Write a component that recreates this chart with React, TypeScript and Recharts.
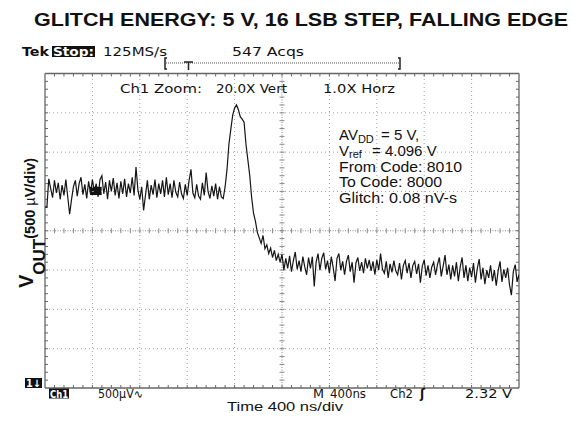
import React from 'react';
import { LineChart, Line, XAxis, YAxis, ReferenceLine, ReferenceArea } from 'recharts';

// Sampled trace: Ch1 (VOUT), 16 ns between samples, values in µV
const SAMPLE_STEP_NS = 16;
const vOutUv = [
  300, 300, 660, 540, 420, 640, 480, 610, 400, 580,
  450, 650, 430, 210, 400, 560, 640, 440, 600, 680,
  460, 590, 410, 630, 470, 650, 500, 600, 430, 650,
  700, 470, 620, 400, 640, 500, 670, 450, 610, 410,
  630, 470, 660, 430, 600, 480, 680, 450, 810, 520,
  400, 560, 260, 450, 640, 400, 580, 460, 650, 420,
  600, 470, 640, 430, 680, 460, 600, 420, 640, 490,
  430, 620, 470, 410, 590, 450, 640, 780, 480, 420,
  590, 440, 400, 610, 450, 740, 500, 410, 570, 440,
  600, 400, 560, 430,
  410, 560, 780, 1100, 1290, 1470, 1560, 1600, 1540, 1450,
  1420, 1380, 1100, 900, 700, 420, 220, 120, -20, -90,
  -160, -60, -230, -180, -290, -220, -340, -250, -380, -300,
  -400,
  -300, -500, -350, -480, -320, -520, -380, -270, -490, -380,
  -520, -330, -460, -560, -340, -480, -330, -710, -400, -290,
  -500, -350, -280, -490, -380, -540, -330, -470, -640, -350,
  -290, -500, -390, -560, -390, -310, -520, -400, -660, -410,
  -340, -510, -400, -540, -350, -480, -370, -510, -390, -560,
  -370, -500, -290, -490, -540, -390, -600, -420, -530, -380,
  -510, -560, -410, -620, -440, -380, -540, -410, -600, -440,
  -390, -550, -420, -660, -450, -370, -570, -440, -600, -460,
  -400, -560, -430, -340, -580, -450, -310, -560, -430, -620,
  -440, -580, -400, -640, -460, -340, -600, -440, -640, -470,
  -590, -410, -660, -480, -360, -620, -470, -680, -500, -600,
  -440, -640, -500, -700, -510, -390, -650, -490, -600, -470,
  -690, -820, -520, -430, -650, -560,
];

// Screen: 10 horizontal divisions of 400 ns, 8 vertical divisions of 500 µV
const TIME_DOMAIN_NS: [number, number] = [0, 4000];
const VOLT_DOMAIN_UV: [number, number] = [-2000, 2000];
const gridTimesNs = [400, 800, 1200, 1600, 2400, 2800, 3200, 3600];
const gridVoltsUv = [-1500, -1000, -500, 500, 1000, 1500];
const CENTER_TIME_NS = 2000;
const CENTER_VOLT_UV = 0;
const MINOR_PER_DIV = 5;
// dense blob of the trace near the start
const traceBlob = { t1: 380, t2: 478, v1: 454, v2: 559 };

const data = vOutUv.map((v, i) => ({ t: i * SAMPLE_STEP_NS, v }));

type Side = 'both' | 'pos' | 'neg';
function tickedLine(divisions: number, len: number, side: Side, stroke: string, width: number, dash?: string) {
  return (p: any) => {
    const { x1, y1, x2, y2 } = p;
    const vertical = Math.abs(x1 - x2) < 0.5;
    const n = divisions * MINOR_PER_DIV;
    const a = side === 'pos' ? 0 : -len;
    const b = side === 'neg' ? 0 : len;
    const ticks = [];
    for (let k = 1; k < n; k++) {
      const f = k / n;
      const x = x1 + (x2 - x1) * f;
      const y = y1 + (y2 - y1) * f;
      ticks.push(
        vertical
          ? <line key={k} x1={x + a} x2={x + b} y1={y} y2={y} stroke={stroke} strokeWidth={1} />
          : <line key={k} x1={x} x2={x} y1={y + a} y2={y + b} stroke={stroke} strokeWidth={1} />
      );
    }
    return (
      <g>
        <line x1={x1} y1={y1} x2={x2} y2={y2} stroke={stroke} strokeWidth={width} strokeDasharray={dash} />
        {ticks}
      </g>
    );
  };
}

const dotted = (p: any) => (
  <line x1={p.x1} y1={p.y1} x2={p.x2} y2={p.y2} stroke="#a0a0a0" strokeWidth={1} strokeDasharray="1 3" />
);

const scopeFont = 'DejaVu Sans, Verdana, sans-serif';
const arial = 'Liberation Sans, Arial, sans-serif';

export default function App() {
  return (
    <div style={{ position: 'absolute', left: 0, top: 0, width: 582, height: 421, background: '#fff' }}>
      <LineChart
        width={582}
        height={421}
        data={data}
        margin={{ top: 73.5, right: 63, bottom: 33, left: 45 }}
      >
        <XAxis type="number" dataKey="t" domain={TIME_DOMAIN_NS} hide allowDataOverflow />
        <YAxis type="number" domain={VOLT_DOMAIN_UV} hide allowDataOverflow />
        {gridTimesNs.map((t) => (
          <ReferenceLine key={'gx' + t} x={t} shape={dotted} />
        ))}
        {gridVoltsUv.map((v) => (
          <ReferenceLine key={'gy' + v} y={v} shape={dotted} />
        ))}
        <ReferenceLine x={CENTER_TIME_NS} shape={tickedLine(8, 2.5, 'both', '#8a8a8a', 1, '1 1.5')} />
        <ReferenceLine y={CENTER_VOLT_UV} shape={tickedLine(10, 2.5, 'both', '#8a8a8a', 1, '1 1.5')} />
        <ReferenceLine x={TIME_DOMAIN_NS[0]} shape={tickedLine(8, 3, 'pos', '#666', 1.3)} />
        <ReferenceLine x={TIME_DOMAIN_NS[1]} shape={tickedLine(8, 3, 'neg', '#666', 1.3)} />
        <ReferenceLine y={VOLT_DOMAIN_UV[1]} shape={tickedLine(10, 3, 'pos', '#666', 1.3)} />
        <ReferenceLine y={VOLT_DOMAIN_UV[0]} shape={tickedLine(10, 3, 'neg', '#666', 1.3)} />
        <ReferenceArea x1={traceBlob.t1} x2={traceBlob.t2} y1={traceBlob.v1} y2={traceBlob.v2} fill="#111" fillOpacity={1} stroke="none" />
        <Line
          type="linear"
          dataKey="v"
          stroke="#151515"
          strokeWidth={1.2}
          dot={false}
          isAnimationActive={false}
        />
      </LineChart>

      <svg width={582} height={421} style={{ position: 'absolute', left: 0, top: 0, pointerEvents: 'none' }}>
        <text x={34} y={26} fontFamily={arial} fontWeight="bold" fontSize={18} fill="#111" textLength={534} lengthAdjust="spacingAndGlyphs">
          GLITCH ENERGY: 5 V, 16 LSB STEP, FALLING EDGE
        </text>

        {/* scope header */}
        <text x={22} y={56} fontFamily={scopeFont} fontWeight="bold" fontSize={12.5} fill="#111" textLength={27} lengthAdjust="spacingAndGlyphs">Tek</text>
        <rect x={52} y={46} width={43} height={11} fill="#111" />
        <text x={53} y={56} fontFamily={scopeFont} fontWeight="bold" fontSize={12} fill="#fff" textLength={41} lengthAdjust="spacingAndGlyphs">Stop:</text>
        <text x={103} y={56} fontFamily={scopeFont} fontSize={12.5} fill="#111" textLength={64} lengthAdjust="spacingAndGlyphs">125MS/s</text>
        <text x={232} y={56} fontFamily={scopeFont} fontSize={12.5} fill="#111" textLength={72} lengthAdjust="spacingAndGlyphs">547 Acqs</text>

        <line x1={166} x2={400} y1={63} y2={63} stroke="#555" strokeWidth={1} strokeDasharray="1 1" />
        <path d="M167 58 H165 V69 H167" fill="none" stroke="#222" strokeWidth={1.5} />
        <path d="M398 58 H400 V69 H398" fill="none" stroke="#222" strokeWidth={1.5} />
        <path d="M184 62 H193 M188.5 62 V70" fill="none" stroke="#222" strokeWidth={1.5} />

        <text x={120} y={93} fontFamily={scopeFont} fontSize={12.5} fill="#111" textLength={82} lengthAdjust="spacingAndGlyphs">Ch1 Zoom:</text>
        <text x={216} y={93} fontFamily={scopeFont} fontSize={12.5} fill="#111" textLength={71} lengthAdjust="spacingAndGlyphs">20.0X Vert</text>
        <text x={323} y={93} fontFamily={scopeFont} fontSize={12.5} fill="#111" textLength={72} lengthAdjust="spacingAndGlyphs">1.0X Horz</text>

        {/* annotation */}
        <g fontFamily={arial} fontSize={15} fill="#111">
          <text x={339} y={140}>
            AV<tspan fontSize={11} dy={3}>DD</tspan><tspan dy={-3} x={381}>= 5 V,</tspan>
          </text>
          <text x={339} y={155.5}>
            V<tspan fontSize={11} dy={2.5}>ref</tspan><tspan dy={-2.5} x={372}>= 4.096 V</tspan>
          </text>
          <text x={339} y={171.5} textLength={123} lengthAdjust="spacingAndGlyphs">From Code: 8010</text>
          <text x={339} y={187} textLength={103} lengthAdjust="spacingAndGlyphs">To Code: 8000</text>
          <text x={339} y={202.5} textLength={118} lengthAdjust="spacingAndGlyphs">Glitch: 0.08 nV-s</text>
        </g>

        {/* y label */}
        <g transform="translate(33,288) rotate(-90)">
          <text x={0} y={0} fontFamily={arial} fontWeight="bold" fill="#111">
            <tspan fontSize={20}>V</tspan>
            <tspan fontSize={17} dy={12}>OUT</tspan>
            <tspan fontSize={14.5} dy={-10}>(500 </tspan>
            <tspan fontSize={14.5} fontWeight="normal">µ</tspan>
            <tspan fontSize={14.5}>V/div)</tspan>
          </text>
        </g>

        {/* scope footer */}
        <rect x={25} y={378} width={17} height={10} fill="#111" />
        <text x={26} y={387} fontFamily={scopeFont} fontWeight="bold" fontSize={10} fill="#fff" textLength={15} lengthAdjust="spacingAndGlyphs">1↓</text>
        <rect x={49} y={388.5} width={20} height={10} fill="#111" />
        <text x={50} y={397.5} fontFamily={scopeFont} fontWeight="bold" fontSize={10.5} fill="#fff" textLength={18} lengthAdjust="spacingAndGlyphs">Ch1</text>
        <text x={98} y={397.5} fontFamily={scopeFont} fontSize={11.5} fill="#111" textLength={45} lengthAdjust="spacingAndGlyphs">500µV∿</text>
        <text x={313} y={397.5} fontFamily={scopeFont} fontSize={11.5} fill="#111" textLength={11} lengthAdjust="spacingAndGlyphs">M</text>
        <text x={330} y={397.5} fontFamily={scopeFont} fontSize={11.5} fill="#111" textLength={36} lengthAdjust="spacingAndGlyphs">400ns</text>
        <text x={390} y={397.5} fontFamily={scopeFont} fontSize={11.5} fill="#111" textLength={23} lengthAdjust="spacingAndGlyphs">Ch2</text>
        <text x={420} y={398} fontFamily={scopeFont} fontWeight="bold" fontSize={12} fill="#111">ʃ</text>
        <text x={465} y={397.5} fontFamily={scopeFont} fontSize={11.5} fill="#111" textLength={47} lengthAdjust="spacingAndGlyphs">2.32 V</text>

        <text x={285} y={411} textAnchor="middle" fontFamily={arial} fontSize={13} fill="#111" textLength={116} lengthAdjust="spacingAndGlyphs">Time 400 ns/div</text>
      </svg>
    </div>
  );
}
